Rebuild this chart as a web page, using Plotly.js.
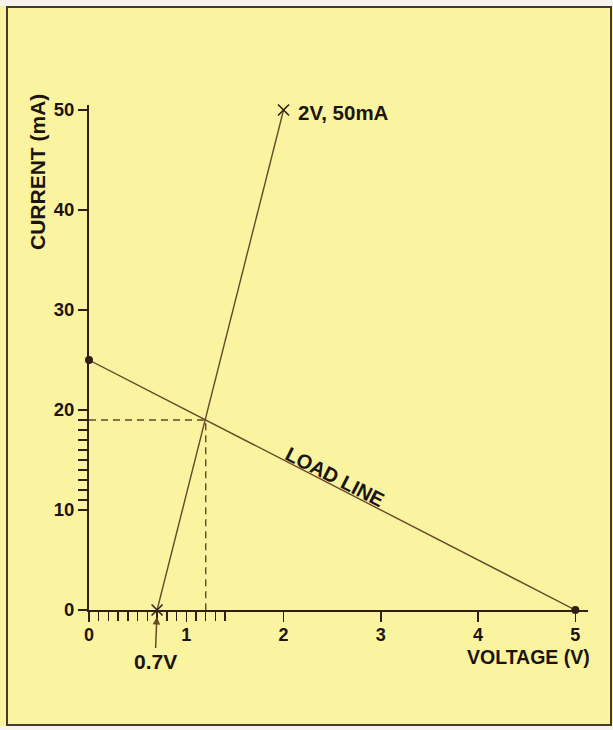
<!DOCTYPE html>
<html><head><meta charset="utf-8">
<script src="https://cdn.plot.ly/plotly-3.0.1.min.js"></script>
<style>html,body{margin:0;padding:0;background:#ffffff}#chart{width:613px;height:730px}</style>
</head><body><div id="chart"></div>
<script>
// ---- data ----
const loadV = [0, 5];            // load line: voltage (V)
const loadI = [25, 0];           // load line: current (mA)
const diodeV = [0.7, 2];         // diode characteristic: voltage (V)
const diodeI = [0, 50];          // diode characteristic: current (mA)
const qV = 1.2;                  // operating point voltage (V)
const qI = 19;                   // operating point current (mA)
const xTickVals = [0, 1, 2, 3, 4, 5];
const yTickVals = [0, 10, 20, 30, 40, 50];
const xMinorVals = [0.1, 0.2, 0.3, 0.4, 0.5, 0.6, 0.7, 0.8, 0.9, 1.1, 1.2, 1.3, 1.4];
const yMinorVals = [11, 12, 13, 14, 15, 16, 17, 18, 19];

const BG = 'rgb(250,243,160)';
const LINE = 'rgb(100,74,40)';
const AXIS = 'rgb(48,32,20)';
const TXT = 'rgb(28,20,14)';
const FONT = '"Liberation Sans", Arial, Helvetica, sans-serif';

const traces = [
  {x: loadV, y: loadI, mode: 'lines', line: {color: LINE, width: 1.4}, hoverinfo: 'skip'},
  {x: diodeV, y: diodeI, mode: 'lines', line: {color: LINE, width: 1.4}, hoverinfo: 'skip'},
  {x: [0, qV, qV], y: [qI, qI, 0], mode: 'lines', line: {color: LINE, width: 1.4, dash: '7px,5px'}, hoverinfo: 'skip'},
  {x: [loadV[0], loadV[1]], y: [loadI[0], loadI[1]], mode: 'markers', cliponaxis: false,
   marker: {symbol: 'circle', size: 8, color: AXIS}, hoverinfo: 'skip'},
  {x: [diodeV[0], diodeV[1]], y: [diodeI[0], diodeI[1]], mode: 'markers', cliponaxis: false,
   marker: {symbol: 'x-thin', size: 11, line: {color: AXIS, width: 1.6}}, hoverinfo: 'skip'}
];

const fx = px => (px - 89) / 499;
const fy = py => (610 - py) / 505;

const layout = {
  width: 613, height: 730,
  margin: {l: 89, r: 25, t: 105, b: 120},
  paper_bgcolor: BG, plot_bgcolor: 'rgba(0,0,0,0)',
  showlegend: false,
  font: {family: FONT, color: TXT},
  xaxis: {
    range: [0, 5.13], showgrid: false, zeroline: false,
    showline: true, linecolor: AXIS, linewidth: 2,
    tickmode: 'array', tickvals: xTickVals, ticktext: xTickVals.map(String),
    ticks: 'outside', ticklen: 10, tickwidth: 1.5, tickcolor: AXIS, ticklabelstandoff: -3,
    tickfont: {family: FONT, size: 18, color: TXT, weight: 'bold'},
    minor: {tickmode: 'array', tickvals: xMinorVals, ticks: 'outside', ticklen: 9, tickwidth: 1.5, tickcolor: AXIS, showgrid: false}
  },
  yaxis: {
    range: [0, 50.5], showgrid: false, zeroline: false,
    showline: true, linecolor: AXIS, linewidth: 2,
    tickmode: 'array', tickvals: yTickVals, ticktext: yTickVals.map(String),
    ticks: 'outside', ticklen: 9, tickwidth: 1.5, tickcolor: AXIS,
    tickfont: {family: FONT, size: 18.5, color: TXT, weight: 'bold'},
    minor: {tickmode: 'array', tickvals: yMinorVals, ticks: 'outside', ticklen: 9, tickwidth: 1.5, tickcolor: AXIS, showgrid: false}
  },
  shapes: [
    {type: 'rect', xref: 'paper', yref: 'paper', x0: fx(-5), x1: fx(620), y0: fy(-5), y1: fy(6),
     fillcolor: 'rgb(244,243,236)', line: {width: 0}, layer: 'below'},
    {type: 'rect', xref: 'paper', yref: 'paper', x0: fx(-5), x1: fx(620), y0: fy(726), y1: fy(740),
     fillcolor: 'rgb(244,243,236)', line: {width: 0}, layer: 'below'},
    {type: 'rect', xref: 'paper', yref: 'paper', x0: fx(7), x1: fx(611), y0: fy(725), y1: fy(7),
     line: {color: 'rgb(70,58,45)', width: 2}, fillcolor: 'rgba(0,0,0,0)'}
  ],
  annotations: [
    {xref: 'paper', yref: 'paper', x: fx(37), y: fy(172), text: 'CURRENT (mA)', textangle: -90,
     showarrow: false, xanchor: 'center', yanchor: 'middle',
     font: {family: FONT, size: 21, color: TXT, weight: 'bold'}},
    {xref: 'paper', yref: 'paper', x: fx(592), y: fy(657), text: 'VOLTAGE (V)',
     showarrow: false, xanchor: 'right', yanchor: 'middle',
     font: {family: FONT, size: 19.5, color: TXT, weight: 'bold'}},
    {x: diodeV[1], y: diodeI[1], text: '2V, 50mA', showarrow: false, xanchor: 'left', yanchor: 'middle',
     xshift: 12, yshift: -2, font: {family: FONT, size: 20.5, color: TXT, weight: 'bold'}},
    {x: 2.5, y: 12.5, text: 'LOAD LINE', showarrow: false, textangle: 27, xanchor: 'center', yanchor: 'middle',
     xshift: 3, yshift: 8, font: {family: FONT, size: 20, color: TXT, weight: 'bold'}},
    {x: diodeV[0], y: 0, text: '0.7V', showarrow: true, ax: -2, ay: 51, standoff: 7,
     arrowhead: 2, arrowsize: 1, arrowwidth: 1.5, arrowcolor: LINE,
     font: {family: FONT, size: 21, color: TXT, weight: 'bold'}}
  ]
};

Plotly.newPlot('chart', traces, layout, {displayModeBar: false, staticPlot: true});
</script>
</body></html>
